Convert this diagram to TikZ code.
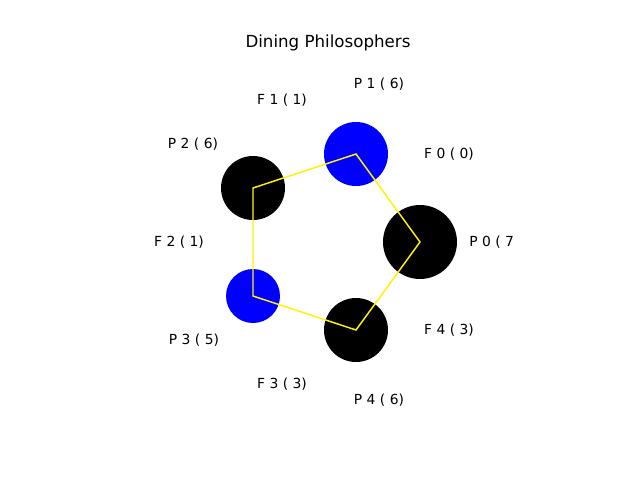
\documentclass[tikz,border=0pt]{standalone}
\usepackage{fontspec}
\setmainfont{DejaVu Sans}
\begin{document}
\begin{tikzpicture}[x=0.75pt,y=-0.75pt,
  lbl/.style={font=\fontsize{10.4}{12}\selectfont, inner sep=0pt}]
\useasboundingbox (0,0) rectangle (640,480);
\fill[white] (0,0) rectangle (640,480);
\node[font=\fontsize{12.5}{14}\selectfont] (title) at (328,43) {Dining Philosophers};
\fill[blue] (356,154) circle [radius=32];
\fill[black] (253,188) circle [radius=32];
\fill[black] (420,242) circle [radius=37];
\fill[blue] (253,296) circle [radius=27];
\fill[black] (356,330) circle [radius=32];
\coordinate (a) at (356,154);
\coordinate (b) at (420,242);
\coordinate (c) at (356,330);
\coordinate (d) at (253,296);
\coordinate (e) at (253,188);
\draw[yellow, line width=1.1pt, line join=miter] (a) -- (b) -- (c) -- (d) -- (e) -- cycle;
\node[lbl] (p1) at (379,84) {P 1 ( 6)};
\node[lbl] (f1) at (282,100) {F 1 ( 1)};
\node[lbl] (p2) at (193,144) {P 2 ( 6)};
\node[lbl] (f0) at (449,154) {F 0 ( 0)};
\node[lbl] (f2) at (179,242) {F 2 ( 1)};
\node[lbl, anchor=west] (p0) at (469,242) {P 0 ( 7};
\node[lbl] (p3) at (194,340) {P 3 ( 5)};
\node[lbl] (f4) at (449,330) {F 4 ( 3)};
\node[lbl] (f3) at (282,384) {F 3 ( 3)};
\node[lbl] (p4) at (379,400) {P 4 ( 6)};
\end{tikzpicture}
\end{document}
